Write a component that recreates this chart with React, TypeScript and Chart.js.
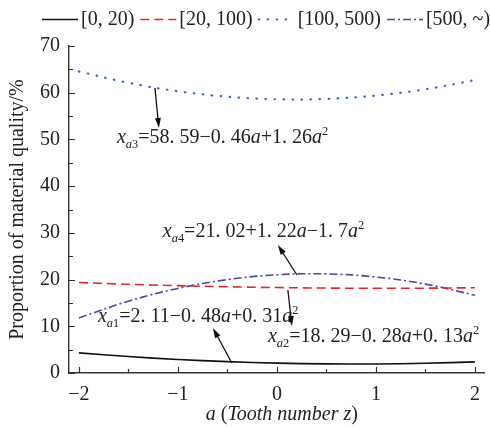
import { useEffect, useRef } from "react";
import { Chart, registerables } from "chart.js";

Chart.register(...registerables);

// Displacement coefficient a (tooth number z)
const aValues = [-2, -1.5, -1, -0.5, 0, 0.5, 1, 1.5, 2];

// Share of material mass (%) per particle-size class
const share0to20 = [4.31, 3.53, 2.9, 2.43, 2.11, 1.95, 1.94, 2.09, 2.39];
const share20to100 = [19.37, 19.0, 18.7, 18.46, 18.29, 18.18, 18.14, 18.16, 18.25];
const share100to500 = [64.55, 62.12, 60.31, 59.14, 58.59, 58.68, 59.39, 60.74, 62.71];
const share500up = [11.78, 15.37, 18.1, 19.99, 21.02, 21.21, 20.54, 19.03, 16.66];

const seriesNames = ["[0, 20)", "[20, 100)", "[100, 500)", "[500, ~)"];

const xTickValues = [-2, -1, 0, 1, 2];
const yTickValues = [0, 10, 20, 30, 40, 50, 60, 70];

const yTitle = "Proportion of material quality/%";

const SERIF = '"Liberation Serif", "Times New Roman", serif';
const FONT_SIZE = 20;

type Seg = { t: string; i?: boolean; s?: "sub" | "sup" };

// Fitted-curve labels (rich text: italic symbols, subscripts, superscripts)
const fitLabels: { segs: Seg[]; text: [number, number]; from: [number, number]; to: [number, number] }[] = [
  {
    segs: [
      { t: "x", i: true }, { t: "a", i: true, s: "sub" }, { t: "3", s: "sub" },
      { t: "=58. 59−0. 46" }, { t: "a", i: true }, { t: "+1. 26" }, { t: "a", i: true }, { t: "2", s: "sup" },
    ],
    text: [-1.616, 49.24], from: [-1.232, 61.0], to: [-1.192, 52.45],
  },
  {
    segs: [
      { t: "x", i: true }, { t: "a", i: true, s: "sub" }, { t: "4", s: "sub" },
      { t: "=21. 02+1. 22" }, { t: "a", i: true }, { t: "−1. 7" }, { t: "a", i: true }, { t: "2", s: "sup" },
    ],
    text: [-1.152, 29.1], from: [0.202, 20.98], to: [0.01, 27.4],
  },
  {
    segs: [
      { t: "x", i: true }, { t: "a", i: true, s: "sub" }, { t: "1", s: "sub" },
      { t: "=2. 11−0. 48" }, { t: "a", i: true }, { t: "+0. 31" }, { t: "a", i: true }, { t: "2", s: "sup" },
    ],
    text: [-1.808, 10.9], from: [-0.455, 2.14], to: [-0.646, 9.63],
  },
  {
    segs: [
      { t: "x", i: true }, { t: "a", i: true, s: "sub" }, { t: "2", s: "sub" },
      { t: "=18. 29−0. 28" }, { t: "a", i: true }, { t: "+0. 13" }, { t: "a", i: true }, { t: "2", s: "sup" },
    ],
    text: [-0.091, 6.64], from: [0.111, 17.77], to: [0.152, 10.06],
  },
];

const COLORS = ["#111111", "#e3262d", "#3c62c2", "#4b43a6"];
const DASHES: number[][] = [[], [9, 5], [0.5, 8.5], [8, 3, 2, 3]];
const WIDTHS = [1.6, 1.6, 2.2, 1.6];
const CAPS: CanvasLineCap[] = ["butt", "butt", "round", "butt"];

function segFont(seg: Seg, size: number) {
  const sz = seg.s ? size * 0.62 : size;
  return `${seg.i ? "italic " : ""}${sz}px ${SERIF}`;
}

function richWidth(ctx: CanvasRenderingContext2D, segs: Seg[], size: number) {
  let w = 0;
  for (const seg of segs) {
    ctx.font = segFont(seg, size);
    w += ctx.measureText(seg.t).width;
  }
  return w;
}

function drawRich(ctx: CanvasRenderingContext2D, x: number, y: number, segs: Seg[], size: number) {
  let cx = x;
  ctx.textBaseline = "alphabetic";
  ctx.textAlign = "left";
  for (const seg of segs) {
    ctx.font = segFont(seg, size);
    const dy = seg.s === "sub" ? 5 : seg.s === "sup" ? -8 : 0;
    ctx.fillText(seg.t, cx, y + dy);
    cx += ctx.measureText(seg.t).width;
  }
}

function drawArrow(ctx: CanvasRenderingContext2D, x0: number, y0: number, x1: number, y1: number) {
  const ang = Math.atan2(y1 - y0, x1 - x0);
  const len = 10;
  const hw = 3;
  ctx.strokeStyle = "#111";
  ctx.fillStyle = "#111";
  ctx.lineWidth = 1.3;
  ctx.setLineDash([]);
  ctx.beginPath();
  ctx.moveTo(x0, y0);
  ctx.lineTo(x1 - Math.cos(ang) * len * 0.8, y1 - Math.sin(ang) * len * 0.8);
  ctx.stroke();
  const bx = x1 - Math.cos(ang) * len;
  const by = y1 - Math.sin(ang) * len;
  ctx.beginPath();
  ctx.moveTo(x1, y1);
  ctx.lineTo(bx - Math.sin(ang) * hw, by + Math.cos(ang) * hw);
  ctx.lineTo(bx + Math.sin(ang) * hw, by - Math.cos(ang) * hw);
  ctx.closePath();
  ctx.fill();
}

const decorPlugin = {
  id: "decor",
  afterDraw(chart: any) {
    const { ctx, chartArea, scales } = chart;
    const xs = scales.x;
    const ys = scales.y;
    ctx.save();

    // inward tick marks (major + minor)
    ctx.strokeStyle = "#333";
    ctx.lineWidth = 1.2;
    ctx.setLineDash([]);
    ctx.beginPath();
    for (let v = -2; v <= 2.001; v += 0.5) {
      const px = Math.round(xs.getPixelForValue(v)) + 0.5;
      const major = Math.abs(v - Math.round(v)) < 1e-6;
      ctx.moveTo(px, chartArea.bottom);
      ctx.lineTo(px, chartArea.bottom - (major ? 6 : 4));
    }
    for (let v = 0; v <= 70; v += 5) {
      const py = Math.round(ys.getPixelForValue(v)) + 0.5;
      const major = v % 10 === 0;
      ctx.moveTo(chartArea.left, py);
      ctx.lineTo(chartArea.left + (major ? 6 : 4), py);
    }
    ctx.stroke();

    ctx.fillStyle = "#222";

    // y-axis title
    ctx.save();
    ctx.translate(18, (chartArea.top + chartArea.bottom) / 2 + 0);
    ctx.rotate(-Math.PI / 2);
    ctx.font = `${FONT_SIZE}px ${SERIF}`;
    ctx.textAlign = "center";
    ctx.textBaseline = "middle";
    ctx.fillText(yTitle, 0, 0);
    ctx.restore();

    // x-axis title
    const xTitle: Seg[] = [
      { t: "a", i: true }, { t: " (" }, { t: "Tooth number z", i: true }, { t: ")" },
    ];
    const tw = richWidth(ctx, xTitle, FONT_SIZE);
    const cx = (chartArea.left + chartArea.right) / 2 + 5;
    drawRich(ctx, cx - tw / 2, chartArea.bottom + 47, xTitle, FONT_SIZE);

    // legend
    let lx = 42;
    const ly = 19;
    seriesNames.forEach((name, i) => {
      ctx.strokeStyle = COLORS[i];
      ctx.lineWidth = WIDTHS[i];
      ctx.lineCap = CAPS[i];
      ctx.setLineDash(DASHES[i]);
      ctx.beginPath();
      ctx.moveTo(lx, ly + 0.5);
      ctx.lineTo(lx + 36, ly + 0.5);
      ctx.stroke();
      ctx.setLineDash([]);
      ctx.lineCap = "butt";
      ctx.fillStyle = "#222";
      ctx.font = `${FONT_SIZE}px ${SERIF}`;
      ctx.textAlign = "left";
      ctx.textBaseline = "middle";
      ctx.fillText(name, lx + 39, ly + 1);
      lx += 39 + ctx.measureText(name).width + 6;
    });

    // fitted-curve annotations
    fitLabels.forEach((lab) => {
      const fx = xs.getPixelForValue(lab.from[0]);
      const fy = ys.getPixelForValue(lab.from[1]);
      const tx = xs.getPixelForValue(lab.to[0]);
      const ty = ys.getPixelForValue(lab.to[1]);
      drawArrow(ctx, fx, fy, tx, ty);
      ctx.fillStyle = "#222";
      drawRich(ctx, xs.getPixelForValue(lab.text[0]), ys.getPixelForValue(lab.text[1]), lab.segs, FONT_SIZE);
    });

    ctx.restore();
  },
};

export default function App() {
  const ref = useRef<HTMLCanvasElement>(null);

  useEffect(() => {
    document.body.style.margin = "0";
    const mk = (i: number, values: number[]) => ({
      label: seriesNames[i],
      data: aValues.map((a, k) => ({ x: a, y: values[k] })),
      borderColor: COLORS[i],
      borderWidth: WIDTHS[i],
      borderDash: DASHES[i],
      borderCapStyle: CAPS[i],
      pointRadius: 0,
      fill: false,
      tension: 0.4,
    });
    const chart = new Chart(ref.current!, {
      type: "line",
      data: {
        datasets: [
          mk(0, share0to20),
          mk(1, share20to100),
          mk(2, share100to500),
          mk(3, share500up),
        ],
      },
      options: {
        animation: false,
        responsive: false,
        layout: { padding: { top: 46, right: 5, left: 0, bottom: 0 } },
        plugins: { legend: { display: false }, tooltip: { enabled: false } },
        scales: {
          x: {
            type: "linear",
            min: -2.1,
            max: 2.1,
            afterFit: (s: any) => { s.height = 55; },
            afterBuildTicks: (s: any) => { s.ticks = xTickValues.map((v) => ({ value: v })); },
            grid: { display: false, drawTicks: false },
            border: { display: true, color: "#333", width: 1.4 },
            ticks: {
              padding: 10,
              color: "#222",
              font: { family: SERIF, size: FONT_SIZE },
              callback: (v: any) => (v < 0 ? "−" + Math.abs(v) : String(v)),
            },
          },
          y: {
            min: 0,
            max: 70,
            afterFit: (s: any) => { s.width = 69; },
            afterBuildTicks: (s: any) => { s.ticks = yTickValues.map((v) => ({ value: v })); },
            grid: { display: false, drawTicks: false },
            border: { display: true, color: "#333", width: 1.4 },
            ticks: {
              padding: 9,
              color: "#222",
              font: { family: SERIF, size: FONT_SIZE },
            },
          },
        },
      },
      plugins: [decorPlugin],
    } as any);
    return () => chart.destroy();
  }, []);

  return (
    <div style={{ position: "absolute", left: 0, top: 0, width: 490, height: 428, background: "#fff" }}>
      <canvas ref={ref} width={490} height={428} style={{ display: "block" }} />
    </div>
  );
}
